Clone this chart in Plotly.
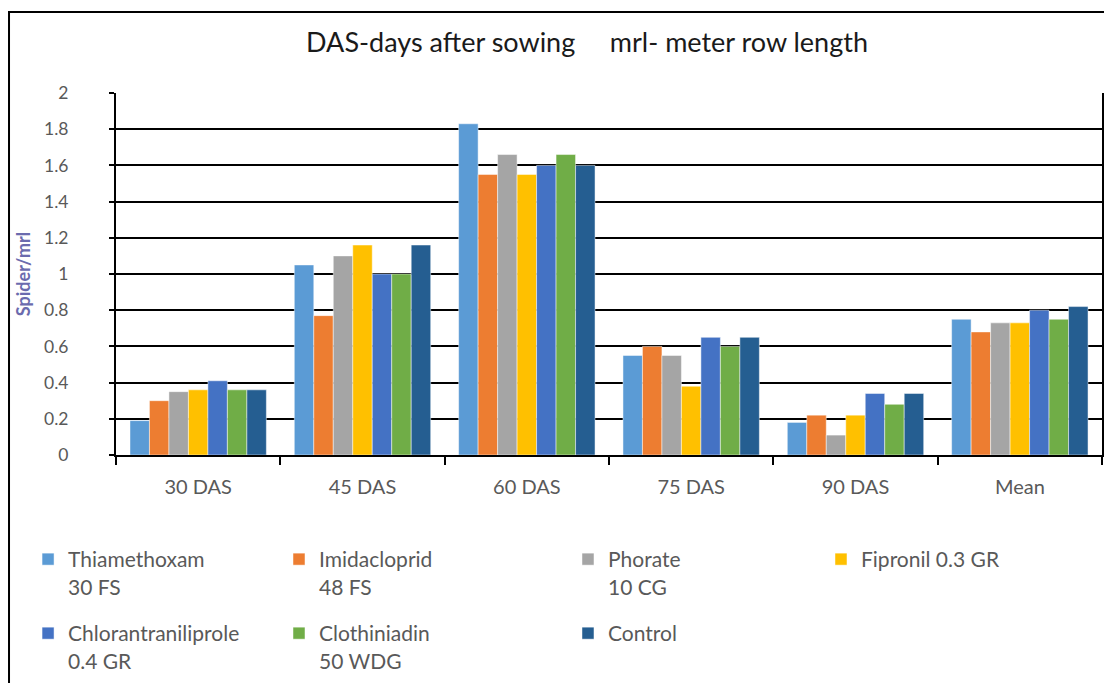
import plotly.graph_objects as go

categories = ["30 DAS", "45 DAS", "60 DAS", "75 DAS", "90 DAS", "Mean"]

thiamethoxam = [0.19, 1.05, 1.83, 0.55, 0.18, 0.75]
imidacloprid = [0.30, 0.77, 1.55, 0.60, 0.22, 0.68]
phorate = [0.35, 1.10, 1.66, 0.55, 0.11, 0.73]
fipronil = [0.36, 1.16, 1.55, 0.38, 0.22, 0.73]
chlorantraniliprole = [0.41, 1.00, 1.60, 0.65, 0.34, 0.80]
clothiniadin = [0.36, 1.00, 1.66, 0.60, 0.28, 0.75]
control = [0.36, 1.16, 1.60, 0.65, 0.34, 0.82]

series_names = [
    "Thiamethoxam<br>30 FS",
    "Imidacloprid<br>48 FS",
    "Phorate<br>10 CG",
    "Fipronil 0.3 GR",
    "Chlorantraniliprole<br>0.4 GR",
    "Clothiniadin<br>50 WDG",
    "Control",
]
series_values = [thiamethoxam, imidacloprid, phorate, fipronil,
                 chlorantraniliprole, clothiniadin, control]
colors = ["#5B9BD5", "#ED7D31", "#A5A5A5", "#FFC000", "#4472C4", "#70AD47", "#255E91"]

FONT = "Lato"
TXT = "#595959"
W, H = 1104, 675  # page body has an 8px margin

# legend slot per series: (column x, row y) in paper units
col_x = [-0.0892, 0.1653, 0.4584, 0.7150]
row_y = [-0.232, -0.4365]
slots = [(0, 0), (1, 0), (2, 0), (3, 0), (0, 1), (1, 1), (2, 1)]

fig = go.Figure()
legends = {}
for i, (name, vals, col, (c, r)) in enumerate(zip(series_names, series_values, colors, slots)):
    lid = "legend" if i == 0 else f"legend{i + 1}"
    legends[lid] = dict(
        orientation="v", x=col_x[c], y=row_y[r], yanchor="top", xanchor="left",
        font=dict(family=FONT, size=21, color=TXT),
        itemwidth=30, valign="top", bgcolor="rgba(0,0,0,0)",
    )
    fig.add_trace(go.Bar(
        x=categories, y=vals, name=name, legend=lid, showlegend=True,
        marker=dict(color=col, line=dict(color="rgba(255,255,255,0.6)", width=0.8)),
    ))

fig.update_layout(
    width=W, height=H, showlegend=True,
    barmode="group", bargap=0.17, bargroupgap=0,
    paper_bgcolor="white", plot_bgcolor="white",
    margin=dict(l=108, r=10, t=85, b=228, autoexpand=False),
    font=dict(family=FONT, color=TXT, size=17),
    title=dict(
        text="DAS-days after sowing\u00a0\u00a0\u00a0\u00a0\u00a0mrl- meter row length",
        xref="container", x=0.5245, xanchor="center",
        yref="container", y=1 - 35 / H, yanchor="middle",
        font=dict(family=FONT, size=27, color="#1a1a1a"),
    ),
    xaxis=dict(
        showline=True, linecolor="black", linewidth=2,
        ticks="outside", tickson="boundaries", ticklen=8, tickcolor="black", tickwidth=2,
        tickfont=dict(size=20, color=TXT), ticklabelstandoff=13,
        showgrid=False,
    ),
    yaxis=dict(
        range=[0, 2], dtick=0.2, tick0=0,
        showline=True, linecolor="black", linewidth=2, mirror=True,
        ticks="outside", ticklen=5, tickcolor="black", tickwidth=2,
        showgrid=True, gridcolor="black", gridwidth=2,
        zeroline=False,
        tickfont=dict(size=17.5, color=TXT), ticklabelstandoff=37,
        title=dict(text="<b>Spider/mrl</b>", font=dict(size=18, color="#6B6BAE"), standoff=9),
    ),
    shapes=[dict(
        type="rect", xref="paper", yref="paper",
        x0=-0.1085, x1=1.03, y0=-0.75, y1=1 + (85 - 4) / 362,
        line=dict(color="black", width=2), fillcolor="rgba(0,0,0,0)", layer="above",
    )],
    **legends,
)

fig.write_html("out.html")
